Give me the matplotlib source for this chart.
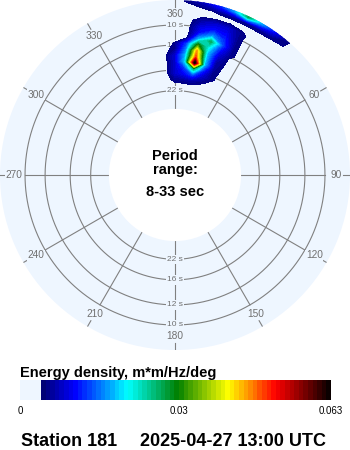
import numpy as np
import matplotlib
matplotlib.use('Agg')
import matplotlib.pyplot as plt
from matplotlib.colors import LinearSegmentedColormap, Normalize

plt.rcParams['font.family'] = ['Liberation Sans', 'DejaVu Sans']

# ---------------- data ----------------
directions = [-10, -5, 0, 5, 10, 15, 20, 25, 30, 35, 40, 45]          # deg (from)
frequencies = [0.045, 0.050, 0.055, 0.060, 0.065, 0.070, 0.075, 0.080, 0.085,
               0.090, 0.095, 0.100, 0.105, 0.110, 0.115, 0.120, 0.125]  # Hz
energy = [
    [0, 0, 0, 0, 0, 0, 0, 0, 0, 0, 0, 0],
    [0, 0, 0, 0, 0, 0, 0, 0, 0, 0, 0, 0],
    [0, 0, 0.002, 0.0025, 0.003, 0.0015, 0.0004, 0, 0, 0, 0, 0],
    [0, 0, 0.005, 0.007, 0.011, 0.005, 0.0015, 0.0004, 0, 0, 0, 0],
    [0, 0, 0.005, 0.010, 0.025, 0.009, 0.0018, 0.0004, 0, 0, 0, 0],
    [0, 0, 0.005, 0.017, 0.063, 0.016, 0.0025, 0.0004, 0, 0, 0, 0],
    [0, 0, 0.005, 0.016, 0.048, 0.016, 0.0030, 0.0006, 0, 0, 0, 0],
    [0, 0, 0.002, 0.013, 0.045, 0.016, 0.0050, 0.0007, 0, 0, 0, 0],
    [0, 0, 0.0012, 0.010, 0.031, 0.019, 0.0075, 0.0015, 0, 0, 0, 0],
    [0, 0, 0, 0.0008, 0.016, 0.026, 0.011, 0.0015, 0, 0, 0, 0],
    [0, 0, 0, 0, 0.008, 0.014, 0.009, 0.0015, 0, 0, 0, 0],
    [0, 0, 0, 0, 0.006, 0.008, 0.007, 0.0015, 0, 0, 0, 0],
    [0, 0, 0, 0, 0.003, 0.005, 0.005, 0.0017, 0, 0, 0, 0],
    [0, 0, 0, 0, 0, 0, 0, 0, 0, 0, 0, 0],
    [0, 0, 0, 0, 0.0005, 0.0013, 0.0016, 0.0018, 0.0019, 0.0015, 0.0010, 0],
    [0, 0, 0, 0.0015, 0.004, 0.008, 0.014, 0.026, 0.014, 0.007, 0.0012, 0],
    [0, 0, 0, 0.003, 0.006, 0.010, 0.016, 0.028, 0.018, 0.010, 0.0015, 0],
]

period_circles = [10, 12, 16, 22]            # s
period_labels = ['10 s', '12 s', '16 s', '22 s']
period_min, period_max = 8, 33
angle_ticks = [0, 60, 90, 120, 150, 180, 210, 240, 270, 300, 330]
angle_labels = ['360', '60', '90', '120', '150', '180', '210', '240', '270', '300', '330']
radial_angles = [0, 30, 60, 90, 120, 150, 180, 210, 240, 270, 300, 330]
cbar_max = 0.063
cbar_ticks = [0, 0.03, 0.063]
cbar_ticklabels = ['0', '0.03', '0.063']

# ---------------- style ----------------
disk = '#eef6ff'
grid_c = '#808080'
lab_c = '#707070'
cmap = LinearSegmentedColormap.from_list('cdip', [
    (0.0, (0.0, 0.0, 0.42)), (0.117, (0.0, 0.0, 1.0)), (0.30, (0.0, 1.0, 1.0)),
    (0.47, (0.0, 0.5, 0.0)), (0.645, (1.0, 1.0, 0.0)), (0.81, (1.0, 0.0, 0.0)),
    (1.0, (0.0, 0.0, 0.0))], N=256)
cmap.set_over('black')
norm = Normalize(0, cbar_max)

W, H = 350, 450
fig = plt.figure(figsize=(W / 100, H / 100), dpi=100)
fig.patch.set_facecolor('white')

ax = fig.add_axes([0, 1 - 350 / H, 1, 350 / H], projection='polar')
ax.set_theta_zero_location('N')
ax.set_theta_direction(-1)
f_in = 1 / 33.0
f_out = 0.1208
ax.set_rorigin(-0.0246)
ax.set_ylim(f_in, f_out)
ax.set_facecolor(disk)
ax.patch.set_edgecolor('none')
ax.patch.set_linewidth(0)
ax.grid(False)
ax.set_xticks([])
ax.set_yticks([])
for name in ('polar', 'inner', 'start', 'end'):
    if name in ax.spines:
        ax.spines[name].set_visible(False)
        ax.spines[name].set_linewidth(0)
        ax.spines[name].set_edgecolor('none')

# period circles
th = np.linspace(0, 2 * np.pi, 721)
for p in period_circles:
    ax.plot(th, np.full_like(th, 1.0 / p), color=grid_c, lw=0.8, zorder=2)
# radial lines
for a in radial_angles:
    t = np.deg2rad(a)
    ax.plot([t, t], [f_in, 0.1], color=grid_c, lw=0.8, zorder=2)
# outer ticks and labels
f_lab = 0.1091
for a, lab in zip(angle_ticks, angle_labels):
    t = np.deg2rad(a)
    ax.plot([t, t], [0.1152, f_out], color=grid_c, lw=0.8, zorder=2)
    ax.text(t, f_lab, lab, ha='center', va='center', fontsize=7.3, color=lab_c,
            zorder=2.5, bbox=dict(boxstyle='square,pad=0.05', fc=disk, ec='none'))
# period labels on N and S axis
for p, lab in zip(period_circles, period_labels):
    for t in (0, np.pi):
        ax.text(t, 1.0 / p, lab, ha='center', va='center', fontsize=6, color=lab_c,
                zorder=2.5, bbox=dict(boxstyle='square,pad=0.15', fc=disk, ec='none'))

# energy spectrum
TH, FF = np.meshgrid(np.deg2rad(directions), frequencies)
Z = np.array(energy)
levels = np.round(np.arange(0.001, cbar_max + 0.0005, 0.001), 4)
ax.contourf(TH, FF, Z, levels=levels, cmap=cmap, norm=norm, extend='max', zorder=3)

# centre text
fig.text(0.5, 1 - 160 / H, 'Period', ha='center', va='baseline', fontsize=10.5, weight='bold')
fig.text(0.5, 1 - 174 / H, 'range:', ha='center', va='baseline', fontsize=10.5, weight='bold')
fig.text(0.5, 1 - 196 / H, f'{period_min}-{period_max} sec', ha='center', va='baseline',
         fontsize=10.5, weight='bold')

# colour bar
x0, x1 = 20, 331
zero_w = 0.063 * 21 / 290
cax = fig.add_axes([x0 / W, 1 - 400 / H, (x1 - x0) / W, 20 / H])
cax.set_xlim(-zero_w, cbar_max)
cax.set_ylim(0, 1)
cax.axvspan(-zero_w, 0, color=disk, lw=0)
edges = np.linspace(0, cbar_max, 64)
mids = 0.5 * (edges[:-1] + edges[1:])
cax.pcolormesh(edges, [0, 1], mids[np.newaxis, :], cmap=cmap, norm=norm, shading='flat')
for s in cax.spines.values():
    s.set_visible(False)
cax.set_yticks([])
tick_pos = [-zero_w if v == 0 else v for v in cbar_ticks]
cax.set_xticks(tick_pos)
cax.set_xticklabels(cbar_ticklabels, fontsize=7)
cax.tick_params(axis='x', length=0, pad=4)

fig.text(20 / W, 1 - 377 / H, 'Energy density, m*m/Hz/deg', ha='left', va='baseline',
         fontsize=10.5, weight='bold')
fig.text(21 / W, 1 - 446 / H, 'Station 181', ha='left', va='baseline', fontsize=13, weight='bold')
fig.text(140 / W, 1 - 446 / H, '2025-04-27 13:00 UTC', ha='left', va='baseline',
         fontsize=13, weight='bold')

fig.savefig('out.png', dpi=100, facecolor='white')
